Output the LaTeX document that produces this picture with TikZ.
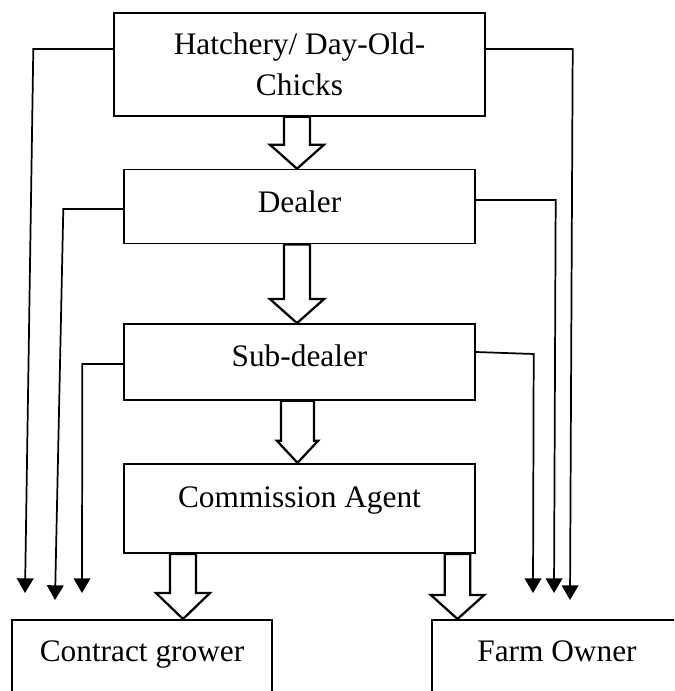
\documentclass[tikz,border=0pt]{standalone}
\usepackage{fontspec}
\setmainfont{Liberation Serif}
\usepackage{tikz}
\usetikzlibrary{positioning,arrows.meta,calc}

\newcommand{\fatarrow}[6]{% x, from, to, half shaft, half head, head length
  \draw[hollow] let \p1=(#2), \p2=(#3), \p3=(#1,0) in
    (\x3-#4,\y1) -- (\x3+#4,\y1) -- (\x3+#4,\y2+#6) -- (\x3+#5,\y2+#6)
    -- (\x3,\y2) -- (\x3-#5,\y2+#6) -- (\x3-#4,\y2+#6) -- cycle;}

\begin{document}
\begin{tikzpicture}[x=0.75pt, y=-0.75pt, >={Triangle[length=11pt,width=12.5pt]},
  font=\fontsize{23.5}{31}\selectfont,
  box/.style={draw, line width=1.3pt, minimum width=263pt, align=center, inner sep=0pt},
  flow/.style={->, line width=1.3pt},
  hollow/.style={draw, fill=white, line width=1.7pt, line join=miter}]
  \useasboundingbox (0,0) rectangle (674,691);
  \clip (0,0) rectangle (674,691);
  \node (hatch) [box, minimum width=278pt, minimum height=77pt] at (299.5,64.5) {Hatchery/ Day-Old-\\Chicks};
  \node (dealer) [box, minimum height=55.5pt, text depth=6.8pt, below=39pt of hatch] {Dealer};
  \node (sub) [box, minimum height=57pt, text depth=9pt, below=59pt of dealer] {Sub-dealer};
  \node (agent) [box, minimum height=67pt, text depth=17pt, below=46.5pt of sub] {Commission Agent};
  \node (grower) [box, minimum width=195pt, minimum height=76pt, text depth=29pt, anchor=north] at (142,619) {Contract grower};
  \node (owner) [box, minimum width=187.5pt, minimum height=76pt, text depth=29pt, anchor=north] at (557,619) {Farm Owner};

  \coordinate (toGrowerA) at (25,593);
  \coordinate (toGrowerB) at (55,600);
  \coordinate (toGrowerC) at (82,593);
  \coordinate (toOwnerA) at (533,593);
  \coordinate (toOwnerB) at (554,593);
  \coordinate (toOwnerC) at (570,600);

  \draw[flow] (hatch.west |- 0,49) -- ++(-80,0) -- (toGrowerA);
  \draw[flow] (hatch.east |- 0,49) -- ++(87,0) -- (toOwnerC);
  \draw[flow] (dealer.west |- 0,209) -- ++(-60,0) -- (toGrowerB);
  \draw[flow] (dealer.east |- 0,200) -- ++(80,0) -- (toOwnerB);
  \draw[flow] (sub.west |- 0,364) -- ++(-41,0) -- (toGrowerC);
  \draw[flow] (sub.east |- 0,352) -- ++(58,2) -- (toOwnerA);

  \fatarrow{297}{hatch.south}{dealer.north}{9.75pt}{20.25pt}{18pt}
  \fatarrow{297}{dealer.south}{sub.north}{9.75pt}{20.25pt}{18pt}
  \fatarrow{297.5}{sub.south}{agent.north}{12.4pt}{15.4pt}{16.5pt}
  \fatarrow{183}{agent.south}{grower.north}{9.75pt}{20.25pt}{19.5pt}
  \fatarrow{457.5}{agent.south}{owner.north}{9.5pt}{20pt}{18pt}
\end{tikzpicture}
\end{document}
